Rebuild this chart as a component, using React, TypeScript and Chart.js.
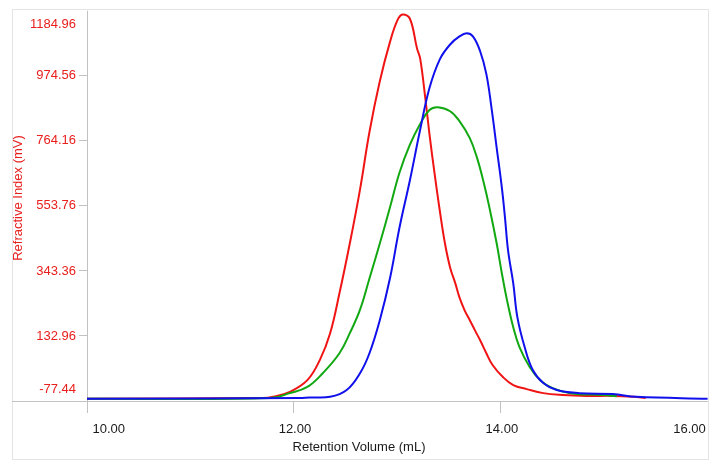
import React, { useEffect, useRef } from "react";
import { Chart, registerables } from "chart.js";

Chart.register(...registerables);

const xTicks = [10, 12, 14, 16];
const xTickLabels = ["10.00", "12.00", "14.00", "16.00"];
const yTicks = [-77.44, 132.96, 343.36, 553.76, 764.16, 974.56, 1184.96];
const yTickLabels = ["-77.44", "132.96", "343.36", "553.76", "764.16", "974.56", "1184.96"];

const xTitle = "Retention Volume (mL)";
const yTitle = "Refractive Index (mV)";

const redVolume = [10.0, 11.7, 11.8, 11.96, 12.13, 12.25, 12.35, 12.44, 12.54, 12.64, 12.73, 12.83, 12.93, 13.0, 13.05, 13.12, 13.19, 13.22, 13.27, 13.31, 13.36, 13.41, 13.46, 13.51, 13.56, 13.6, 13.65, 13.7, 13.75, 13.8, 13.86, 13.92, 14.02, 14.12, 14.25, 14.41, 14.6, 14.83, 15.08, 15.28, 15.4];
const redSignal = [-70, -68, -64, -48, -10, 55, 142, 271, 432, 609, 793, 957, 1086, 1154, 1173, 1160, 1063, 1031, 902, 786, 657, 538, 432, 354, 303, 258, 216, 184, 151, 119, 77, 39, 0, -26, -39, -52, -58, -61, -61, -64, -68];

const greenVolume = [10.0, 11.77, 11.96, 12.13, 12.28, 12.44, 12.54, 12.64, 12.73, 12.83, 12.93, 13.02, 13.12, 13.22, 13.31, 13.39, 13.51, 13.6, 13.7, 13.77, 13.83, 13.89, 13.96, 14.01, 14.06, 14.12, 14.18, 14.28, 14.38, 14.5, 14.67, 14.99, 15.12];
const greenSignal = [-70, -68, -52, -32, 13, 77, 142, 219, 319, 432, 551, 661, 751, 819, 864, 873, 860, 828, 773, 709, 635, 548, 432, 335, 248, 161, 97, 32, -10, -36, -52, -58, -62];

const blueVolume = [10.0, 12.06, 12.15, 12.35, 12.51, 12.64, 12.73, 12.83, 12.93, 13.02, 13.12, 13.22, 13.31, 13.41, 13.51, 13.6, 13.67, 13.73, 13.8, 13.86, 13.91, 13.96, 14.01, 14.04, 14.07, 14.12, 14.16, 14.23, 14.31, 14.41, 14.54, 14.76, 15.08, 15.31, 16.0];
const blueSignal = [-70, -68, -66, -64, -42, 13, 77, 184, 322, 483, 635, 800, 935, 1028, 1076, 1102, 1112, 1102, 1054, 980, 870, 741, 612, 516, 409, 303, 193, 97, 22, -19, -42, -52, -55, -64, -70];

const FONT = '13px "Liberation Sans", Arial, sans-serif';
const RED_TEXT = "#e8201e";
const DARK_TEXT = "#1a1a1a";
const AXIS = "#c2c2c2";
const FRAME = "#e4e4e4";

const toPoints = (xs: number[], ys: number[]) => xs.map((x, i) => ({ x, y: ys[i] }));

const decorPlugin = {
  id: "decor",
  beforeDraw(chart: any) {
    const ctx = chart.ctx;
    ctx.save();
    ctx.fillStyle = "#ffffff";
    ctx.fillRect(0, 0, chart.width, chart.height);
    ctx.strokeStyle = FRAME;
    ctx.lineWidth = 1;
    ctx.strokeRect(12.5, 9.5, 696, 450);
    ctx.restore();
  },
  beforeDatasetsDraw(chart: any) {
    const { ctx, chartArea } = chart;
    ctx.save();
    ctx.strokeStyle = AXIS;
    ctx.lineWidth = 1;
    ctx.beginPath();
    ctx.moveTo(12, Math.round(chartArea.bottom) + 0.5);
    ctx.lineTo(chartArea.right, Math.round(chartArea.bottom) + 0.5);
    ctx.moveTo(Math.round(chartArea.left) + 0.5, chartArea.top);
    ctx.lineTo(Math.round(chartArea.left) + 0.5, chartArea.bottom + 12);
    ctx.stroke();
    ctx.restore();
  },
  afterDraw(chart: any) {
    const { ctx, scales } = chart;
    const xs = scales.x;
    const ys = scales.y;
    ctx.save();
    ctx.font = FONT;
    ctx.fillStyle = RED_TEXT;
    ctx.textAlign = "right";
    ctx.textBaseline = "middle";
    yTicks.forEach((v, i) => {
      let py = ys.getPixelForValue(v);
      if (i === 0) py -= 12;
      if (i === yTicks.length - 1) py += 13.5;
      ctx.fillText(yTickLabels[i], 76, py);
    });
    ctx.fillStyle = DARK_TEXT;
    xTicks.forEach((v, i) => {
      const px = xs.getPixelForValue(v);
      if (i === 0) {
        ctx.textAlign = "left";
        ctx.fillText(xTickLabels[i], px + 5.5, 429);
      } else if (i === xTicks.length - 1) {
        ctx.textAlign = "right";
        ctx.fillText(xTickLabels[i], px - 2, 429);
      } else {
        ctx.textAlign = "center";
        ctx.fillText(xTickLabels[i], px + 1, 429);
      }
    });
    ctx.textAlign = "center";
    ctx.fillText(xTitle, 359, 447);
    ctx.save();
    ctx.translate(18.5, 198);
    ctx.rotate(-Math.PI / 2);
    ctx.fillStyle = RED_TEXT;
    ctx.textAlign = "center";
    ctx.textBaseline = "middle";
    ctx.fillText(yTitle, 0, 0);
    ctx.restore();
    ctx.restore();
  },
};

const lineStyle = {
  borderWidth: 2,
  pointRadius: 0,
  tension: 0.4,
  fill: false,
};

export default function App() {
  const canvasRef = useRef<HTMLCanvasElement | null>(null);

  useEffect(() => {
    document.body.style.margin = "0";
    const canvas = canvasRef.current;
    if (!canvas) return;
    const chart = new Chart(canvas, {
      type: "line",
      data: {
        datasets: [
          { label: "Blue", data: toPoints(blueVolume, blueSignal), borderColor: "#1010ec", ...lineStyle },
          { label: "Green", data: toPoints(greenVolume, greenSignal), borderColor: "#12a812", ...lineStyle },
          { label: "Red", data: toPoints(redVolume, redSignal), borderColor: "#f01414", ...lineStyle },
        ],
      },
      options: {
        animation: false,
        responsive: false,
        events: [],
        layout: { padding: { top: 9, right: 10, left: 0, bottom: 0 } },
        plugins: {
          legend: { display: false },
          tooltip: { enabled: false },
          title: { display: false },
        },
        scales: {
          x: {
            type: "linear",
            min: 10,
            max: 16,
            afterBuildTicks: (scale: any) => {
              scale.ticks = xTicks.map((v) => ({ value: v }));
            },
            afterFit: (scale: any) => {
              scale.height = 72;
            },
            border: { display: false },
            grid: {
              drawOnChartArea: false,
              drawTicks: true,
              tickLength: 12,
              color: (c: any) => (c.index === xTicks.length - 1 ? "rgba(0,0,0,0)" : AXIS),
              lineWidth: 1,
            },
            ticks: { color: "rgba(0,0,0,0)", font: { size: 13 } },
          },
          y: {
            type: "linear",
            min: -77.44,
            max: 1184.96,
            afterBuildTicks: (scale: any) => {
              scale.ticks = yTicks.map((v) => ({ value: v }));
            },
            afterFit: (scale: any) => {
              scale.width = 87;
            },
            border: { display: false },
            grid: {
              drawOnChartArea: false,
              drawTicks: true,
              tickLength: 8,
              color: (c: any) => (c.index === yTicks.length - 1 ? "rgba(0,0,0,0)" : AXIS),
              lineWidth: 1,
            },
            ticks: { color: "rgba(0,0,0,0)", font: { size: 13 } },
          },
        },
      },
      plugins: [decorPlugin],
    });
    return () => chart.destroy();
  }, []);

  return (
    <div style={{ width: 718, height: 473 }}>
      <canvas ref={canvasRef} width={718} height={473} style={{ display: "block", width: 718, height: 473 }} />
    </div>
  );
}
